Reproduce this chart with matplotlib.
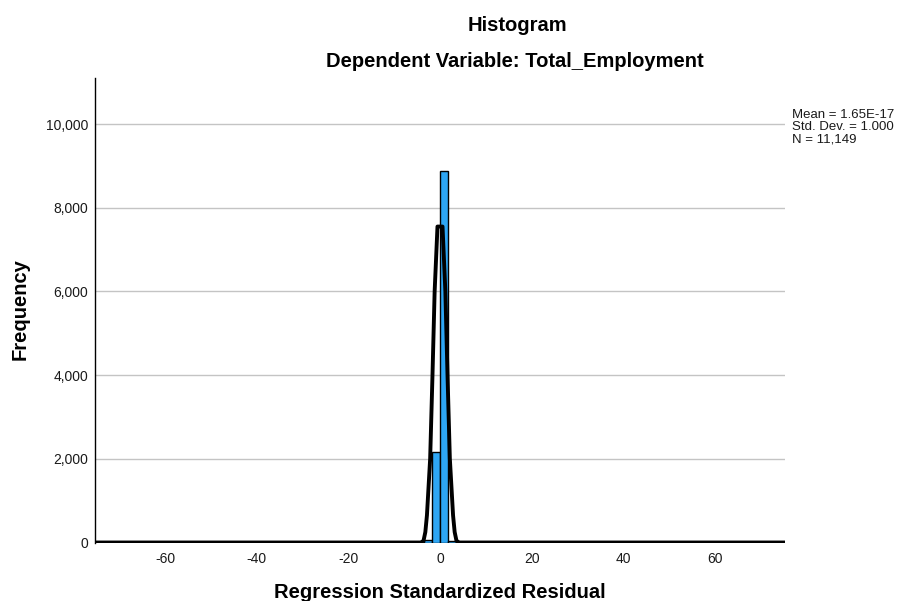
import numpy as np
import matplotlib
matplotlib.use("Agg")
import matplotlib.pyplot as plt
from matplotlib.ticker import FuncFormatter

# ---- data ----
bin_edges = [-3.6, -1.8, 0.0, 1.8, 3.6]
bin_counts = [60, 2170, 8884, 25]
# fitted normal curve as drawn in the reference
curve_x = [-75.3, -4.2, -3.6, -3.2, -2.85, -2.15, -1.64, -1.17, -0.55,
           0.55, 1.17, 1.64, 2.15, 2.85, 3.2, 3.6, 4.2, 75.3]
curve_y = [0, 0, 40, 250, 650, 2000, 4000, 6000, 7550,
           7550, 6000, 4000, 2000, 650, 250, 40, 0, 0]
stat_mean_text = "1.65E-17"
stat_sd = 1.000
stat_n = 11149
x_ticks = [-60, -40, -20, 0, 20, 40, 60]
y_ticks = [0, 2000, 4000, 6000, 8000, 10000]
title = "Histogram"
subtitle = "Dependent Variable: Total_Employment"
x_label = "Regression Standardized Residual"
y_label = "Frequency"

plt.rcParams['font.family'] = ['Liberation Sans', 'DejaVu Sans']

W, H = 899, 601
fig = plt.figure(figsize=(W / 100, H / 100), dpi=100)
ax = fig.add_axes([95 / W, (H - 542.5) / H, 690 / W, 464.5 / H])

ax.set_xlim(-75.3, 75.3)
ax.set_ylim(0, 11100)

# grid
ax.set_yticks(y_ticks)
ax.yaxis.grid(True, color='#c4c4c4', linewidth=1.0)
ax.set_axisbelow(True)

# bars
edges = np.array(bin_edges)
ax.bar(edges[:-1], bin_counts, width=np.diff(edges), align='edge',
       color='#2ea6f4', edgecolor='black', linewidth=1.0, zorder=2)

# normal curve
ax.plot(curve_x, curve_y, color='black', linewidth=2.8, zorder=3,
        solid_joinstyle='round', solid_capstyle='butt')

# axes styling
for s in ['top', 'right', 'bottom']:
    ax.spines[s].set_visible(False)
ax.spines['left'].set_linewidth(1.0)
ax.spines['left'].set_color('black')

ax.set_xticks(x_ticks)
ax.set_xticklabels([str(t) for t in x_ticks])
ax.yaxis.set_major_formatter(FuncFormatter(lambda v, p: f"{int(v):,}"))
ax.tick_params(axis='both', length=0, labelsize=10, labelcolor='#1a1a1a')
ax.tick_params(axis='x', pad=7)
ax.tick_params(axis='y', pad=5)

# labels
def px(x, y):
    return x / W, 1 - y / H

fig.text(*px(517, 31), title, ha='center', va='baseline',
         fontsize=14.5, fontweight='bold')
fig.text(*px(515, 67), subtitle, ha='center', va='baseline',
         fontsize=14.5, fontweight='bold')
fig.text(*px(440, 598), x_label, ha='center', va='baseline',
         fontsize=14.5, fontweight='bold')
fig.text(*px(20, 309), y_label, ha='center', va='center',
         fontsize=14.5, fontweight='bold', rotation=90)

stats_lines = [f"Mean = {stat_mean_text}",
               f"Std. Dev. = {stat_sd:.3f}",
               f"N = {stat_n:,}"]
for i, line in enumerate(stats_lines):
    fig.text(*px(792, 118 + 12 * i), line, ha='left', va='baseline',
             fontsize=9.5, color='#1a1a1a')

fig.savefig("out.png", dpi=100)
